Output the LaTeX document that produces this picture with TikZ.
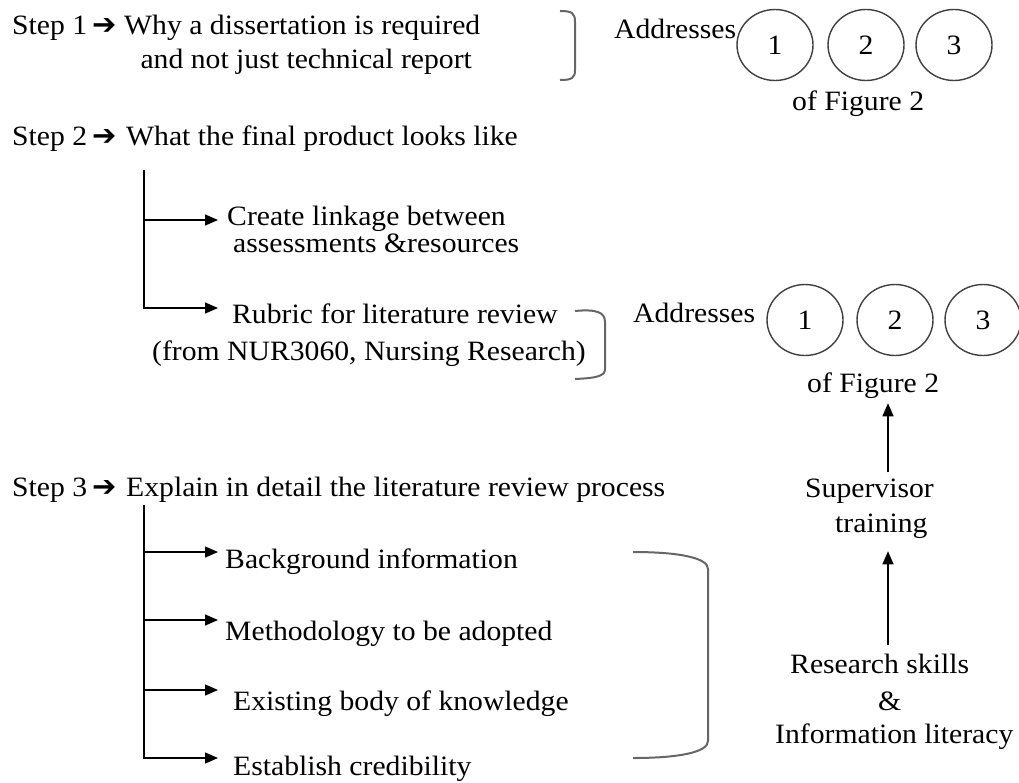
\documentclass[tikz,border=0pt]{standalone}
\usepackage{fontspec}
\setmainfont{Liberation Serif}[FakeStretch=1.06]
\newfontfamily\symf{DejaVu Sans}
\usetikzlibrary{arrows.meta,shapes.geometric}
\begin{document}
\begin{tikzpicture}[x=1pt,y=-1pt,
  every node/.style={inner sep=0pt, font=\fontsize{28}{34}\selectfont},
  txt/.style={anchor=base west},
  ctxt/.style={anchor=base},
  harr/.style={anchor=base west, font=\symf\bfseries\fontsize{29}{32}\selectfont},
  circ/.style={ellipse, draw=black!75, line width=1.4pt, minimum width=76pt, minimum height=71pt},
  arr/.style={line width=1.3pt, -{Triangle[length=13pt,width=11pt]}},
  brk/.style={draw=black!60, line width=2pt}]
\useasboundingbox (0,0) rectangle (1019,782);

% Step 1
\node[txt] (s1lab) at (12,34) {Step 1};
\node[harr] (s1arr) at (92,34) {➔};
\node[txt] (s1txt) at (124,34) {Why a dissertation is required};
\node[ctxt] (s1txt2) at ([xshift=4pt,yshift=-34pt]s1txt.base) {and not just technical report};
\draw[brk] (560,11) .. controls (572,11) and (575,13) .. (575,22) -- (575,70) .. controls (575,78) and (572,80) .. (560,80);
\node[txt] (addr1) at (614,38) {Addresses};
\node[circ] (c11) at (775,45) {1};
\node[circ] (c12) at (866,45) {2};
\node[circ] (c13) at (954,45) {3};
\node[txt] (fig1) at (792,110) {of Figure 2};

% Step 2
\node[txt] (s2lab) at (12,145) {Step 2};
\node[harr] (s2arr) at (92,145) {➔};
\node[txt] (s2txt) at (126,145) {What the final product looks like};
\coordinate (t2top) at (144,170);
\coordinate (t2m) at (144,220);
\coordinate (e2a) at (218,220);
\coordinate (e2b) at (218,308);
\draw[arr] (t2m) -- (e2a);
\draw[arr] (t2top) |- (e2b);
\node[txt] (cl1) at (227,225) {Create linkage between};
\node[txt] (cl2) at (233,252) {assessments \&resources};
\node[txt] (rb1) at (232,323) {Rubric for literature review};
\node[txt] (rb2) at (152,360) {(from NUR3060, Nursing Research)};
\draw[brk] (575,311) .. controls (596,309) and (605,312) .. (605,322) -- (605,369) .. controls (605,376) and (597,378) .. (575,379);
\node[txt] (addr2) at (633,322) {Addresses};
\node[circ] (c21) at (805,320) {1};
\node[circ] (c22) at (895,320) {2};
\node[circ] (c23) at (983,320) {3};
\node[txt] (fig2) at (807,392) {of Figure 2};

% Step 3
\node[txt] (s3lab) at (12,496) {Step 3};
\node[harr] (s3arr) at (92,496) {➔};
\node[txt] (s3txt) at (126,496) {Explain in detail the literature review process};
\coordinate (t3top) at (144,505);
\coordinate (t3a) at (144,552);
\coordinate (t3b) at (144,620);
\coordinate (t3c) at (144,690);
\coordinate (e3a) at (218,552);
\coordinate (e3b) at (218,620);
\coordinate (e3c) at (218,690);
\coordinate (e3d) at (218,758);
\draw[arr] (t3a) -- (e3a);
\draw[arr] (t3b) -- (e3b);
\draw[arr] (t3c) -- (e3c);
\draw[arr] (t3top) |- (e3d);
\node[txt] (bg) at (225,568) {Background information};
\node[txt] (me) at (225,640) {Methodology to be adopted};
\node[txt] (ex) at (233,710) {Existing body of knowledge};
\node[txt] (es) at (233,775) {Establish credibility};
\draw[brk] (633,552) .. controls (680,552) and (708,558) .. (708,569) -- (708,741) .. controls (708,752) and (680,758) .. (633,758);

% right column
\coordinate (ax) at (888,0);
\node[txt] (sup) at (805,497) {Supervisor};
\node[txt] (train) at (835,532) {training};
\node[txt] (res) at (790,673) {Research skills};
\node[txt] (amp) at (878,710) {\&};
\node[txt] (info) at (775,743) {Information literacy};
\draw[arr, shorten <=6pt, shorten >=5pt] (ax |- sup.north) -- (ax |- fig2.south);
\draw[arr, shorten <=8pt, shorten >=13pt] (ax |- res.north) -- (ax |- train.south);
\end{tikzpicture}
\end{document}
